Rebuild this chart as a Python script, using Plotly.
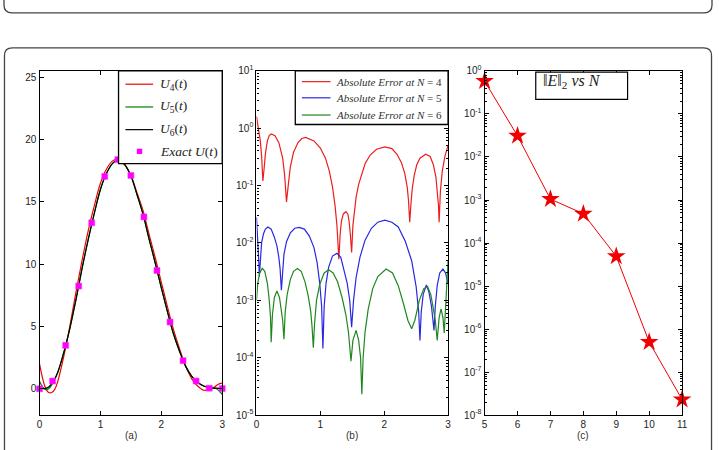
import plotly.graph_objects as go

W, H = 719, 450

# ---------------- Panel (a): solutions ----------------
T_A = [0, 0.05, 0.1, 0.15, 0.2, 0.25, 0.3, 0.4, 0.5, 0.6, 0.7, 0.8, 0.9, 1.0, 1.1, 1.2,
       1.3, 1.4, 1.5, 1.6, 1.7, 1.8, 1.9, 2.0, 2.1, 2.2, 2.3, 2.4, 2.5, 2.6, 2.7, 2.8,
       2.85, 2.9, 2.95, 3.0]
U4 = [2.0, 0.85, 0.05, -0.3, -0.3, -0.05, 0.6, 2.65, 5.1, 7.8, 10.35, 12.7, 14.7, 16.5,
      17.65, 18.3, 18.45, 17.97, 17.12, 15.75, 14.3, 12.38, 10.53, 8.55, 6.6, 4.75, 3.2,
      1.82, 0.8, 0.2, -0.12, -0.05, 0.05, 0.25, 0.4, 0.45]
U5 = [0.6, 0.15, -0.06, 0.0, 0.32, 0.75, 1.3, 2.95, 4.9, 7.2, 9.7, 12.0, 14.1, 16.0,
      17.3, 18.1, 18.4, 18.0, 17.1, 15.6, 14.0, 12.0, 10.1, 8.1, 6.2, 4.4, 3.0, 1.8,
      1.0, 0.5, 0.22, 0.12, 0.1, 0.02, -0.18, -0.45]
U6 = [0.05, 0.02, 0.03, 0.15, 0.42, 0.8, 1.35, 2.95, 4.9, 7.2, 9.7, 12.0, 14.1, 16.0,
      17.3, 18.1, 18.4, 18.0, 17.1, 15.6, 14.0, 12.0, 10.1, 8.1, 6.2, 4.4, 3.0, 1.8,
      1.0, 0.5, 0.2, 0.08, 0.06, 0.05, 0.03, 0.0]
T_EXACT = [0, 0.214, 0.429, 0.643, 0.857, 1.071, 1.286, 1.5, 1.714, 1.929, 2.143,
           2.357, 2.571, 2.786, 3.0]
U_EXACT = [0.0, 0.62, 3.49, 8.25, 13.33, 17.05, 18.4, 17.13, 13.8, 9.5, 5.36, 2.26,
           0.62, 0.05, 0.02]

# ---------------- Panel (b): absolute errors ----------------
T_E4 = [0, 0.03, 0.06, 0.08, 0.10, 0.12, 0.14, 0.17, 0.20, 0.23, 0.29, 0.35, 0.41, 0.44,
        0.47, 0.50, 0.53, 0.58, 0.65, 0.71, 0.77, 0.90, 1.00, 1.08, 1.14, 1.19, 1.23,
        1.26, 1.28, 1.29, 1.31, 1.33, 1.36, 1.40, 1.43, 1.45, 1.47, 1.49, 1.51, 1.53,
        1.56, 1.60, 1.65, 1.70, 1.78, 1.88, 2.01, 2.12, 2.20, 2.27, 2.32, 2.36, 2.38,
        2.40, 2.42, 2.44, 2.47, 2.51, 2.56, 2.65, 2.72, 2.77, 2.81, 2.83, 2.85, 2.86,
        2.88, 2.91, 2.95, 3.00]
ERR4 = [1.6, 1.0, 6.0e-1, 3.3e-1, 1.2e-1, 2.0e-1, 3.6e-1, 6.0e-1, 7.4e-1, 7.9e-1,
        7.4e-1, 5.6e-1, 3.0e-1, 1.55e-1, 5.2e-2, 1.07e-1, 2.1e-1, 3.8e-1, 5.6e-1,
        6.6e-1, 6.9e-1, 6.0e-1, 4.5e-1, 3.0e-1, 1.8e-1, 9.5e-2, 4.5e-2, 2.0e-2,
        1.0e-2, 5.2e-3, 1.4e-2, 2.4e-2, 3.2e-2, 3.5e-2, 3.2e-2, 2.4e-2, 1.4e-2,
        6.8e-3, 2.0e-2, 3.5e-2, 6.3e-2, 1.05e-1, 1.66e-1, 2.4e-1, 3.4e-1, 4.3e-1,
        4.7e-1, 4.4e-1, 3.5e-1, 2.5e-1, 1.66e-1, 9.5e-2, 5.6e-2, 2.3e-2, 5.0e-2,
        8.9e-2, 1.5e-1, 2.3e-1, 3.0e-1, 3.5e-1, 3.2e-1, 2.3e-1, 1.4e-1, 8.9e-2,
        4.5e-2, 2.3e-2, 7.9e-2, 1.8e-1, 3.2e-1, 5.0e-1]

T_E5 = [0, 0.02, 0.035, 0.045, 0.06, 0.08, 0.11, 0.14, 0.18, 0.23, 0.28, 0.32, 0.35,
        0.37, 0.39, 0.41, 0.43, 0.47, 0.53, 0.60, 0.67, 0.75, 0.83, 0.90, 0.95, 0.99,
        1.02, 1.04, 1.06, 1.09, 1.13, 1.19, 1.26, 1.32, 1.37, 1.42, 1.46, 1.49, 1.52,
        1.56, 1.62, 1.70, 1.80, 1.90, 2.01, 2.12, 2.22, 2.33, 2.43, 2.50, 2.54, 2.56,
        2.58, 2.61, 2.66, 2.70, 2.74, 2.76, 2.78, 2.80, 2.83, 2.87, 2.92, 2.96, 3.00]
ERR5 = [2.8e-2, 1.26e-2, 5.0e-3, 2.6e-3, 5.6e-3, 1.0e-2, 1.45e-2, 1.74e-2, 1.9e-2,
        1.74e-2, 1.26e-2, 8.9e-3, 5.6e-3, 3.5e-3, 1.5e-3, 3.5e-3, 6.3e-3, 1.05e-2,
        1.5e-2, 1.8e-2, 1.86e-2, 1.74e-2, 1.3e-2, 8.3e-3, 4.5e-3, 2.0e-3, 7.9e-4,
        1.45e-4, 7.9e-4, 2.0e-3, 3.8e-3, 5.9e-3, 6.6e-3, 5.6e-3, 3.5e-3, 2.0e-3,
        1.0e-3, 3.4e-4, 1.0e-3, 2.5e-3, 5.6e-3, 1.12e-2, 1.8e-2, 2.3e-2, 2.5e-2,
        2.3e-2, 1.9e-2, 1.07e-2, 4.9e-3, 1.74e-3, 6.3e-4, 2.0e-4, 6.3e-4, 1.26e-3,
        1.86e-3, 1.4e-3, 7.9e-4, 5.0e-4, 3.0e-4, 7.9e-4, 1.8e-3, 3.0e-3, 3.5e-3,
        3.0e-3, 1.95e-3]

T_E6 = [0, 0.02, 0.05, 0.09, 0.13, 0.17, 0.20, 0.22, 0.23, 0.25, 0.28, 0.32, 0.36, 0.39,
        0.41, 0.43, 0.45, 0.48, 0.53, 0.58, 0.64, 0.70, 0.76, 0.81, 0.85, 0.87, 0.89,
        0.91, 0.94, 0.99, 1.06, 1.13, 1.20, 1.27, 1.34, 1.40, 1.44, 1.48, 1.51, 1.56,
        1.60, 1.63, 1.65, 1.67, 1.70, 1.75, 1.82, 1.90, 2.03, 2.13, 2.22, 2.30, 2.37,
        2.43, 2.48, 2.55, 2.62, 2.68, 2.73, 2.77, 2.80, 2.83, 2.86, 2.89, 2.92, 2.94,
        2.97, 3.00]
ERR6 = [1.0e-3, 2.0e-3, 3.0e-3, 3.6e-3, 3.2e-3, 2.0e-3, 1.0e-3, 5.0e-4, 1.86e-4,
        5.6e-4, 1.12e-3, 1.45e-3, 1.12e-3, 7.1e-4, 4.5e-4, 2.1e-4, 6.3e-4, 1.26e-3,
        2.3e-3, 3.2e-3, 3.6e-3, 3.2e-3, 2.1e-3, 1.2e-3, 6.3e-4, 3.5e-4, 1.5e-4,
        4.0e-4, 1.0e-3, 1.9e-3, 3.0e-3, 3.4e-3, 3.0e-3, 2.1e-3, 1.12e-3, 5.6e-4,
        2.8e-4, 8.7e-5, 2.0e-4, 3.0e-4, 2.0e-4, 1.0e-4, 2.3e-5, 1.0e-4, 2.8e-4,
        7.1e-4, 1.6e-3, 2.6e-3, 3.5e-3, 3.0e-3, 1.8e-3, 8.9e-4, 4.5e-4, 3.2e-4,
        4.5e-4, 1.0e-3, 1.6e-3, 1.74e-3, 1.26e-3, 7.1e-4, 4.5e-4, 2.0e-4, 5.0e-4,
        7.1e-4, 5.0e-4, 2.7e-4, 1.26e-3, 4.9e-3]

# ---------------- Panel (c): L2 error vs N ----------------
N_VALS = [5, 6, 7, 8, 9, 10, 11]
E2_NORM = [0.58, 0.031, 1.05e-3, 4.8e-4, 4.9e-5, 5.0e-7, 2.3e-8]

# ---------------- tick labels / legend texts ----------------
A_XTICKS = [0, 1, 2, 3]
A_YTICKS = [0, 5, 10, 15, 20, 25]
B_EXPONENTS = [-5, -4, -3, -2, -1, 0, 1]
C_EXPONENTS = [-8, -7, -6, -5, -4, -3, -2, -1, 0]
C_XTICKS = [5, 6, 7, 8, 9, 10, 11]
LEGEND_A = ['<i>U</i><sub>4</sub>(<i>t</i>)', '<i>U</i><sub>5</sub>(<i>t</i>)',
            '<i>U</i><sub>6</sub>(<i>t</i>)', '<i>Exact U</i>(<i>t</i>)']
LEGEND_B = ['<i>Absolute Error at N</i> = 4', '<i>Absolute Error at N</i> = 5',
            '<i>Absolute Error at N</i> = 6']
CAPTIONS = ['(a)', '(b)', '(c)']
BOX_TEXT = '‖<i>E</i>‖<sub>2</sub> <i>vs N</i>'


def fx(x):
    return x / W


def fy(y):
    return 1 - y / H


def decade_ticks(exps):
    vals = [10.0 ** e for e in exps]
    text = ['10<sup>%s</sup>' % (('-' if e < 0 else '') + str(abs(e))) for e in exps]
    minor = [k * 10.0 ** e for e in exps[:-1] for k in range(2, 10)]
    return vals, text, minor


B_YV, B_YT, B_MINOR = decade_ticks(B_EXPONENTS)
C_YV, C_YT, C_MINOR = decade_ticks(C_EXPONENTS)

RED_A = 'rgb(240,0,0)'
GREEN_A = 'rgb(0,128,0)'
RED = 'rgb(235,30,30)'
BLUE = 'rgb(40,40,225)'
GREEN = 'rgb(30,135,30)'
MAGENTA = '#ff00ff'
TICKFONT = dict(family='Liberation Sans, Arial', size=10, color='#222')
SERIF = 'Liberation Serif, Times New Roman, serif'

fig = go.Figure()

# panel (a)
for y, col in [(U4, RED_A), (U5, GREEN_A), (U6, 'black')]:
    fig.add_trace(go.Scatter(x=T_A, y=y, mode='lines', showlegend=False,
                             line=dict(color=col, width=1.2, shape='spline'),
                             xaxis='x', yaxis='y'))
fig.add_trace(go.Scatter(x=T_EXACT, y=U_EXACT, mode='markers', showlegend=False,
                         marker=dict(symbol='square', size=6, color=MAGENTA,
                                     line=dict(color='#ff33ff', width=0.5)),
                         cliponaxis=False, xaxis='x', yaxis='y'))

# panel (b)
for t, e, col in [(T_E4, ERR4, RED), (T_E5, ERR5, BLUE), (T_E6, ERR6, GREEN)]:
    fig.add_trace(go.Scatter(x=t, y=e, mode='lines', showlegend=False,
                             line=dict(color=col, width=1.2),
                             xaxis='x2', yaxis='y2'))

# panel (c)
fig.add_trace(go.Scatter(x=N_VALS, y=E2_NORM, mode='lines+markers', showlegend=False,
                         line=dict(color=RED_A, width=1),
                         marker=dict(symbol='star', size=14, color=RED_A),
                         cliponaxis=False, xaxis='x3', yaxis='y3'))

common = dict(showline=True, linecolor='black', linewidth=1.3, mirror='ticks',
              ticks='inside', ticklen=4, tickcolor='black', showgrid=False,
              zeroline=False, tickfont=TICKFONT)

fig.update_layout(
    width=W, height=H, margin=dict(l=0, r=0, t=0, b=0),
    paper_bgcolor='white', plot_bgcolor='white', showlegend=False,
    xaxis=dict(domain=[fx(37), fx(222)], range=[0, 3], tickvals=A_XTICKS,
               anchor='y', **common),
    yaxis=dict(domain=[fy(419), fy(65.7)], range=[-2.09, 25.52], tickvals=A_YTICKS,
               anchor='x', **common),
    xaxis2=dict(domain=[fx(256.7), fx(450.7)], range=[0, 3], tickvals=A_XTICKS,
                anchor='y2', **common),
    yaxis2=dict(domain=[fy(419.3), fy(65.5)], type='log', range=[-5, 1],
                tickvals=B_YV, ticktext=B_YT, anchor='x2',
                minor=dict(tickmode='array', tickvals=B_MINOR, ticks='inside',
                           ticklen=2, tickcolor='black'), **common),
    xaxis3=dict(domain=[fx(487.7), fx(687.7)], range=[5, 11], tickvals=C_XTICKS,
                anchor='y3', **common),
    yaxis3=dict(domain=[fy(419.3), fy(65.7)], type='log', range=[-8, 0],
                tickvals=C_YV, ticktext=C_YT, anchor='x3',
                minor=dict(tickmode='array', tickvals=C_MINOR, ticks='inside',
                           ticklen=2, tickcolor='black'), **common),
)

# ---- legend of panel (a) ----
fig.add_shape(type='rect', xref='paper', yref='paper', x0=fx(117), x1=fx(222),
              y0=fy(161), y1=fy(65.7), line=dict(color='black', width=1.3),
              fillcolor='white', layer='above')
LEG_A_Y = [79.3, 102.7, 126, 148.3]
for i, (txt, col) in enumerate(zip(LEGEND_A, [RED_A, GREEN_A, 'black', None])):
    yc = LEG_A_Y[i]
    if col is not None:
        fig.add_shape(type='line', xref='paper', yref='paper', x0=fx(124), x1=fx(152),
                      y0=fy(yc), y1=fy(yc), line=dict(color=col, width=1.2), layer='above')
    else:
        fig.add_shape(type='rect', xref='paper', yref='paper', x0=fx(135.5), x1=fx(141),
                      y0=fy(yc + 2.75), y1=fy(yc - 2.75), line=dict(width=0),
                      fillcolor=MAGENTA, layer='above')
    fig.add_annotation(x=fx(156.5), y=fy(yc), xref='paper', yref='paper', text=txt,
                       xanchor='left', yanchor='middle', showarrow=False,
                       font=dict(family=SERIF, size=13.5, color='#222'))

# ---- legend of panel (b) ----
fig.add_shape(type='rect', xref='paper', yref='paper', x0=fx(296), x1=fx(450.7),
              y0=fy(120.7), y1=fy(65.5), line=dict(color='black', width=1.3),
              fillcolor='white', layer='above')
LEG_B_Y = [76.7, 93.3, 111]
for i, (txt, col) in enumerate(zip(LEGEND_B, [RED, BLUE, GREEN])):
    yc = LEG_B_Y[i]
    fig.add_shape(type='line', xref='paper', yref='paper', x0=fx(302.7), x1=fx(331.7),
                  y0=fy(yc), y1=fy(yc), line=dict(color=col, width=1.2), layer='above')
    fig.add_annotation(x=fx(335.5), y=fy(yc), xref='paper', yref='paper', text=txt,
                       xanchor='left', yanchor='middle', showarrow=False,
                       font=dict(family=SERIF, size=11, color='#333'))

# ---- subplot captions ----
for label, xc in zip(CAPTIONS, [129.5, 353.5, 587]):
    fig.add_annotation(x=fx(xc), y=fy(440.5), xref='paper', yref='paper', text=label,
                       xanchor='center', yanchor='middle', showarrow=False,
                       font=dict(family='Liberation Sans, Arial', size=10, color='#333'))

# ---- ||E||_2 vs N box in panel (c) ----
fig.add_shape(type='rect', xref='paper', yref='paper', x0=fx(539.5), x1=fx(632.5),
              y0=fy(95), y1=fy(67), line=dict(color='black', width=1.2),
              fillcolor='white', layer='above')
fig.add_annotation(x=fx(576), y=fy(77), xref='paper', yref='paper', text=BOX_TEXT,
                   xanchor='center', yanchor='middle', showarrow=False,
                   font=dict(family=SERIF, size=16, color='#222'))


# ---- page frames (rounded open rectangles) ----
def rounded_open(x0, x1, y_edge, y_far, r, top_edge):
    s = 1 if top_edge else -1
    return (f"M {fx(x0)},{fy(y_far)} L {fx(x0)},{fy(y_edge + s * r)} "
            f"Q {fx(x0)},{fy(y_edge)} {fx(x0 + r)},{fy(y_edge)} "
            f"L {fx(x1 - r)},{fy(y_edge)} Q {fx(x1)},{fy(y_edge)} {fx(x1)},{fy(y_edge + s * r)} "
            f"L {fx(x1)},{fy(y_far)}")


fig.add_shape(type='path', xref='paper', yref='paper',
              path=rounded_open(1, 718, 6, -20, 8, False),
              line=dict(color='#444', width=1.3))
fig.add_shape(type='path', xref='paper', yref='paper',
              path=rounded_open(1.5, 717.5, 42, 470, 8, True),
              line=dict(color='#444', width=1.3))

fig.write_html('out.html')
